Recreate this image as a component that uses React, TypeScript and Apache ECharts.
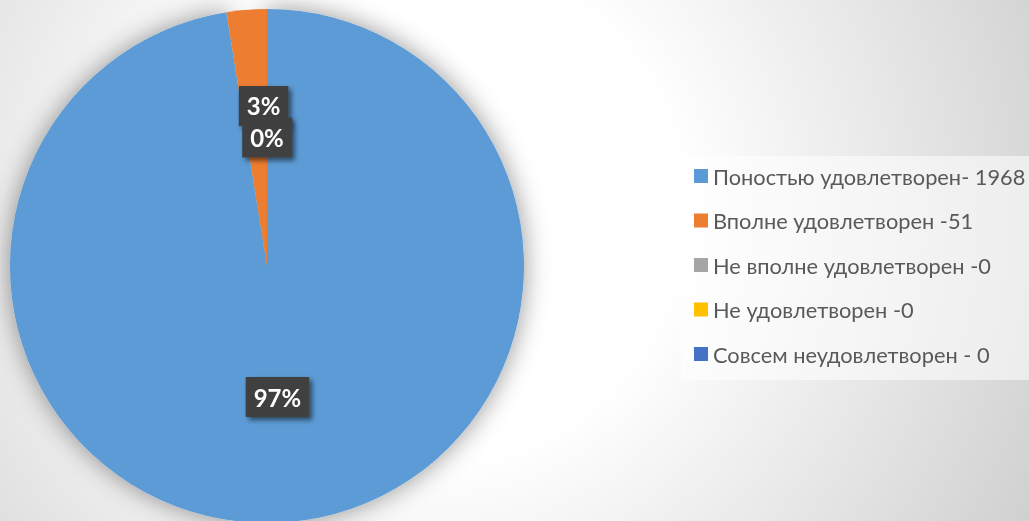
import React, { useEffect, useRef } from "react";
import * as echarts from "echarts";

const categories = [
  "Поностью удовлетворен- 1968",
  "Вполне удовлетворен -51",
  "Не вполне удовлетворен -0",
  "Не удовлетворен -0",
  "Совсем неудовлетворен - 0",
];
const values = [1968, 51, 0, 0, 0];
const colors = ["#5B9BD5", "#ED7D31", "#A5A5A5", "#FFC000", "#4472C4"];

export default function App() {
  const ref = useRef<HTMLDivElement>(null);
  useEffect(() => {
    if (!ref.current) return;
    const chart = echarts.init(ref.current, undefined, { renderer: "svg" });
    const labelBase = {
      show: true,
      position: "inside",
      formatter: "{d}%",
      color: "#ffffff",
      fontFamily: "Lato, 'Open Sans', sans-serif",
      fontWeight: "bold",
      fontSize: 24,
      lineHeight: 26,
      backgroundColor: "#404040",
      padding: [7, 8],
      shadowBlur: 5,
      shadowColor: "rgba(0,0,0,0.55)",
      shadowOffsetX: 3,
      shadowOffsetY: 3,
    };
    chart.setOption({
      animation: false,
      color: colors,
      legend: {
        orient: "vertical",
        left: 681,
        top: 156,
        padding: [9, 20, 15, 13],
        backgroundColor: "rgba(255,255,255,0.55)",
        icon: "rect",
        itemWidth: 14,
        itemHeight: 14,
        itemGap: 22.5,
        textStyle: {
          fontFamily: "Lato, 'Open Sans', sans-serif",
          fontSize: 21.8,
          lineHeight: 22,
          color: "#595959",
        },
        data: categories,
      },
      series: [
        {
          type: "pie",
          center: [267, 266],
          radius: 257,
          startAngle: 90,
          clockwise: true,
          percentPrecision: 0,
          label: labelBase,
          labelLine: { show: false },
          emphasis: { disabled: true },
          labelLayout: (params: any) => {
            if (params.dataIndex === 1) return { dx: 7, dy: -29 };
            if (params.dataIndex === 4) return { dy: 3 };
            return {};
          },
          data: categories.map((name, i) => ({
            name,
            value: values[i],
            itemStyle:
              i === 0
                ? { shadowBlur: 26, shadowColor: "rgba(0,0,0,0.42)" }
                : {},
            label: i === 2 || i === 3 ? { show: false } : {},
          })),
        },
      ],
    });
    return () => chart.dispose();
  }, []);
  return (
    <div
      ref={ref}
      style={{
        position: "fixed",
        left: 0,
        top: 0,
        width: 1029,
        height: 521,
        background:
          "radial-gradient(circle at 430px 210px, #ffffff 0px, #ffffff 250px, #e8e8e8 460px, #cbcbcb 720px)",
      }}
    />
  );
}
